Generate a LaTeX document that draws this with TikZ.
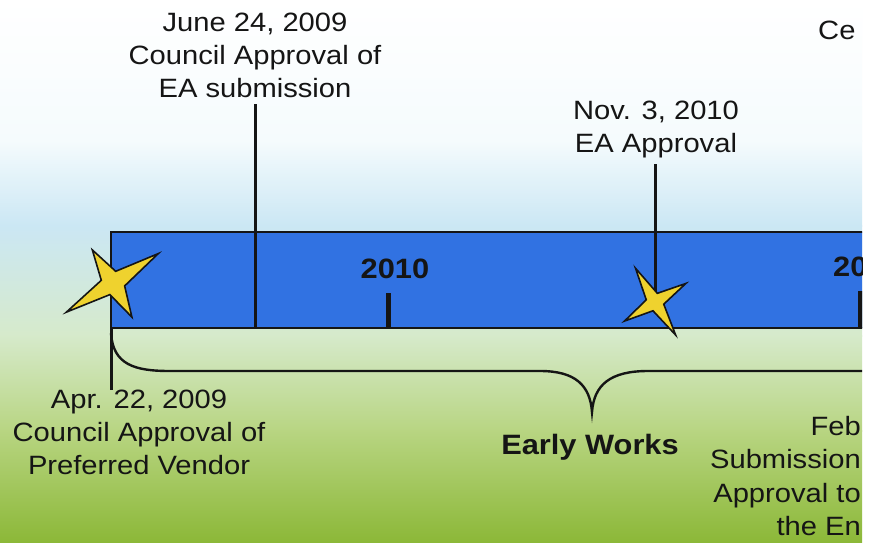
\documentclass[tikz,border=0pt]{standalone}
\usepackage{fontspec}
\setmainfont[FakeStretch=1.1]{Liberation Sans}
\usetikzlibrary{positioning,calc}
\definecolor{ink}{HTML}{151515}
\definecolor{barblue}{HTML}{3172E2}
\definecolor{staryellow}{HTML}{EFD22E}
\definecolor{skywhite}{HTML}{F5FBFD}
\definecolor{skyblue}{HTML}{CBE7F4}
\definecolor{paleleaf}{HTML}{D6EACB}
\definecolor{midleaf}{HTML}{B8D582}
\definecolor{deepleaf}{HTML}{8CB838}
\tikzset{
  timebar/.style={draw=ink,fill=barblue,line width=2.6pt,inner sep=0pt,outer sep=0pt},
  stem/.style={draw=ink,line width=3pt},
  yeartick/.style={draw=ink,line width=5pt},
  burst/.style={draw=ink,fill=staryellow,line width=1.6pt,line join=miter},
  ewbrace/.style={draw=ink,line width=2.4pt},
  datelbl/.style={align=center,inner sep=0pt,font=\fontsize{26.5}{33}\selectfont,text=ink},
  yearlbl/.style={inner sep=0pt,font=\fontsize{28}{33}\selectfont\bfseries,text=ink}}

\begin{document}
\begin{tikzpicture}[x=1pt,y=-1pt]
  \useasboundingbox (0,0) rectangle (873,542);
  \fill[white] (0,0) rectangle (873,542);
  \begin{scope}
  \clip (0,0) rectangle (862,542);
  % sky to grass
  \fill[top color=white,bottom color=skywhite] (0,0) rectangle (862,141);
  \fill[top color=skywhite,bottom color=skyblue] (0,140) rectangle (862,226);
  \fill[top color=skyblue,bottom color=paleleaf] (0,225) rectangle (862,336);
  \fill[top color=paleleaf,bottom color=midleaf] (0,335) rectangle (862,431);
  \fill[top color=midleaf,bottom color=deepleaf] (0,430) rectangle (862,542);
  % the bar and its years
  \node[timebar,anchor=north west,minimum width=800pt,minimum height=96pt] (bar) at (111,232) {};
  \node[yearlbl,anchor=base] (y2010) at (395,278) {2010};
  \node[yearlbl,anchor=base west] (y2011) at (833,276) {20};
  \coordinate (t2010) at (388,293);
  \coordinate (t2011) at (860,291);
  \draw[yeartick] (t2010) -- (t2010 |- bar.south);
  \draw[yeartick] (t2011) -- (t2011 |- bar.south);
  % dates above
  \node[datelbl,anchor=north] (june) at (255,13) {June 24, 2009\\Council Approval of\\EA submission};
  \node[datelbl,anchor=north] (nov) at (656,101) {Nov. 3, 2010\\EA Approval};
  \node[datelbl,anchor=base west] (ce) at (818,39) {Ce};
  \coordinate (junetop) at (255,104);
  \coordinate (novtop) at (655,164);
  \coordinate (novstar) at (655,302);
  \draw[stem] (junetop) -- (junetop |- bar.south);
  \draw[stem] (novtop) -- (novstar);
  % dates below
  \node[datelbl,anchor=north] (apr) at (139,390) {Apr. 22, 2009\\Council Approval of\\Preferred Vendor};
  \node[datelbl,font=\fontsize{26.5}{33.5}\selectfont,align=right,anchor=north east] (feb) at (861,416) {Feb\\Submission\\Approval to\\the En};
  \coordinate (aprbot) at (111,390);
  \draw[stem] (bar.south west) -- (aprbot);
  % brace
  \coordinate (braceleft) at (111,333);
  \coordinate (bracetip) at (592,412);
  \draw[ewbrace] (braceleft) .. controls +(2,32) and +(-35,0) .. (170,371) -- (540,371)
    .. controls +(35,0) and +(-2,-27) .. (bracetip)
    .. controls +(2,-27) and +(-38,0) .. (648,371) -- (900,371);
  \node[yearlbl,anchor=base] (early) at (590,454) {Early Works};
  % stars
  \coordinate (aprstar) at (113,283);
  \draw[burst,shift={(aprstar)}] (33:54pt) -- (77:12pt) -- (122:39pt) -- (167:12pt)
    -- (212:55pt) -- (255:12pt) -- (299:39pt) -- (346:12pt) -- cycle;
  \draw[burst,shift={(novstar)}] (31:36pt) -- (75:9pt) -- (120:39pt) -- (166:9pt)
    -- (212:36pt) -- (257:9pt) -- (302:39pt) -- (346:9pt) -- cycle;
  \end{scope}
\end{tikzpicture}
\end{document}
